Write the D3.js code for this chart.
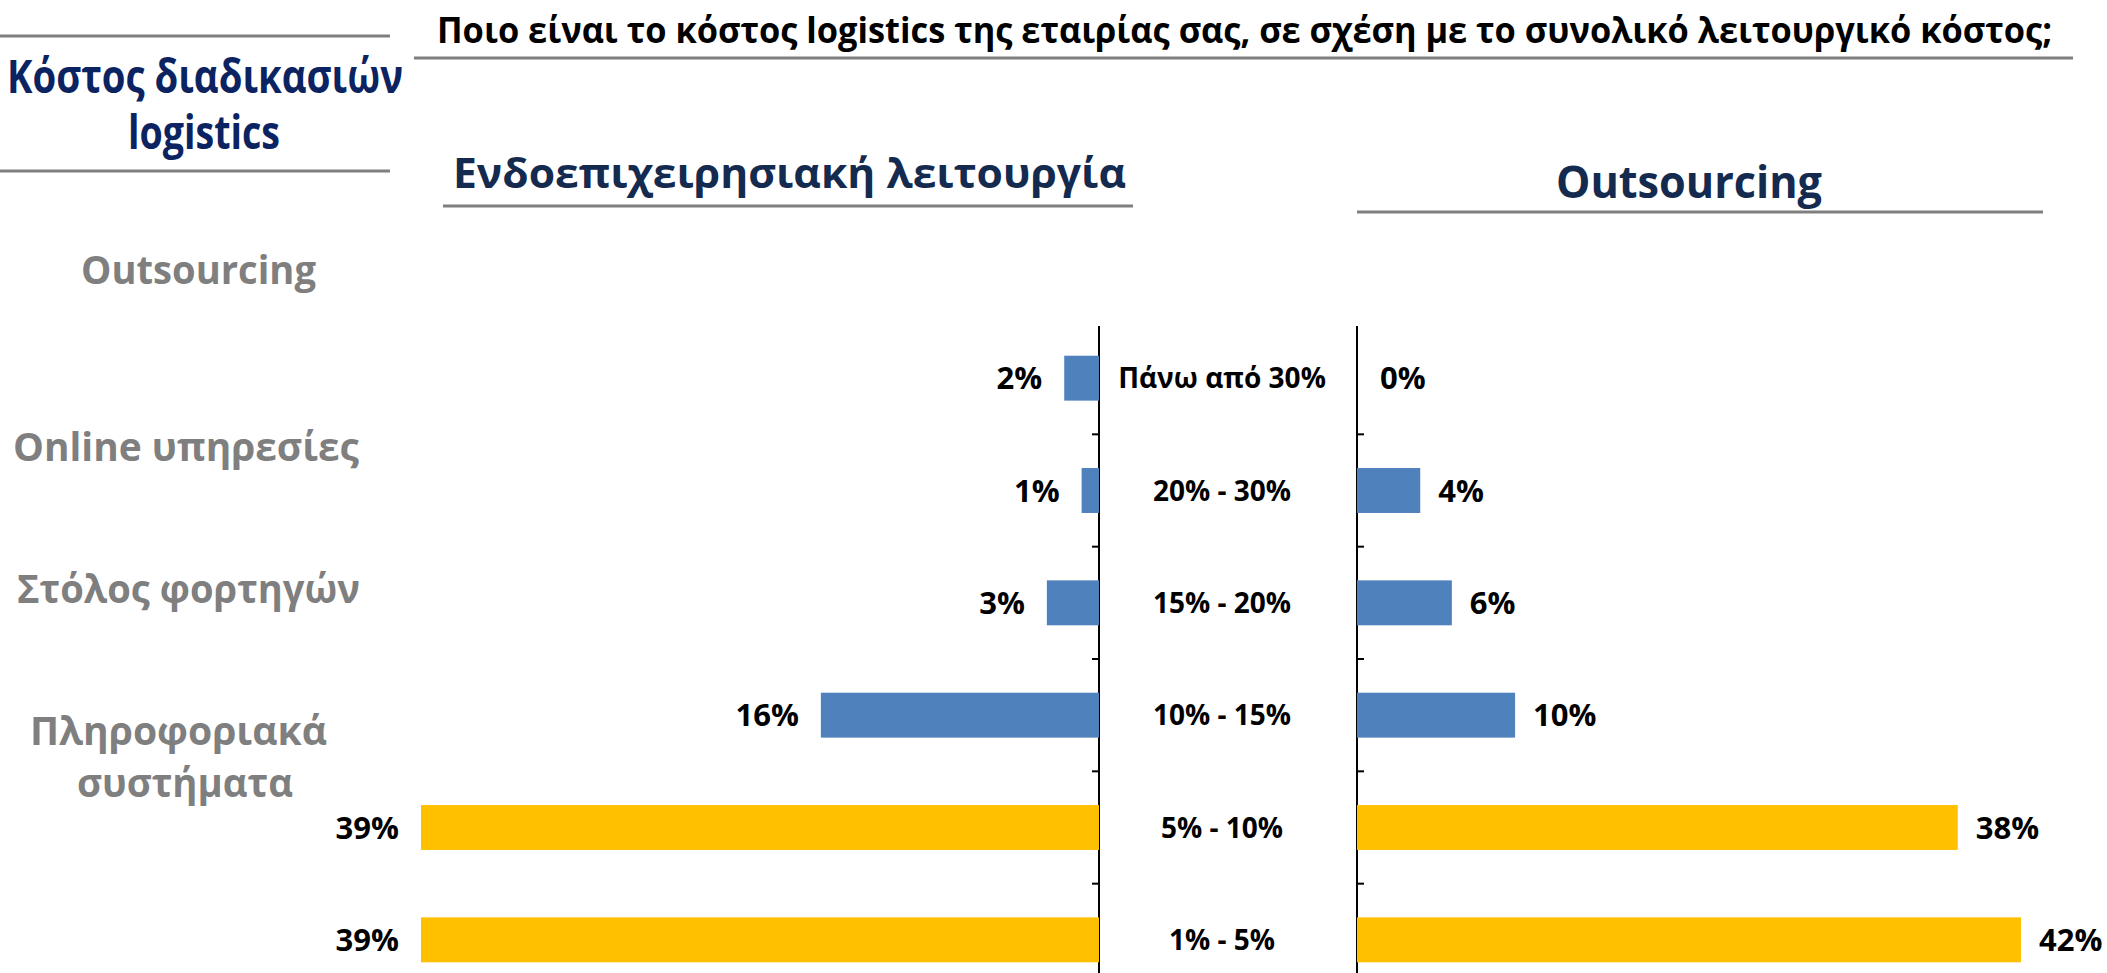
<!DOCTYPE html>
<html>
<head>
<meta charset="utf-8">
<script src="https://cdn.jsdelivr.net/npm/d3@7"></script>
<style>
  html, body { margin: 0; padding: 0; background: #ffffff; }
  svg { display: block; }
  text { font-family: 'Open Sans', 'Noto Sans', 'DejaVu Sans', sans-serif; font-weight: 700; }
</style>
</head>
<body>
<div id="chart"></div>
<script>
// ---------------- data ----------------
const categories = ["Πάνω από 30%", "20% - 30%", "15% - 20%", "10% - 15%", "5% - 10%", "1% - 5%"];
const inhouseValues = [2, 1, 3, 16, 39, 39];        // Ενδοεπιχειρησιακή λειτουργία (%)
const outsourcingValues = [0, 4, 6, 10, 38, 42];    // Outsourcing (%)
const questionTitle = "Ποιο είναι το κόστος logistics της εταιρίας σας, σε σχέση με το συνολικό λειτουργικό κόστος;";
const leftPanelTitle = "Ενδοεπιχειρησιακή λειτουργία";
const rightPanelTitle = "Outsourcing";
const sectionTitleLines = ["Κόστος διαδικασιών", "logistics"];
const sideMenuLines = ["Outsourcing", "Online υπηρεσίες", "Στόλος φορτηγών", "Πληροφοριακά", "συστήματα"];

// ---------------- layout / style ----------------
const W = 2107, H = 973;
const BLUE = "#4f81bd", GOLD = "#ffc000";
const NAVY = "#0b2461", SLATE = "#142b4f", GREY = "#7f7f7f";
const axisLeftX = 1099, axisRightX = 1357;

const svg = d3.select("#chart").append("svg")
  .attr("width", W).attr("height", H)
  .attr("viewBox", `0 0 ${W} ${H}`);

const y = d3.scaleBand().domain(categories).range([322, 996]).paddingInner(0.6).paddingOuter(0.3);
const xL = d3.scaleLinear().domain([0, 39]).range([axisLeftX, 421]);
const xR = d3.scaleLinear().domain([0, 42]).range([axisRightX, 2021]);
const color = d3.scaleOrdinal().domain(categories).range([BLUE, BLUE, BLUE, BLUE, GOLD, GOLD]);

// ---------- decorative rules ----------
const rules = [
  [0, 36, 390, 36], [0, 171, 390, 171],
  [414, 58, 2073, 58],
  [443, 206, 1133, 206],
  [1357, 212, 2043, 212]
];
svg.append("g").selectAll("line").data(rules).join("line")
  .attr("x1", d => d[0]).attr("y1", d => d[1]).attr("x2", d => d[2]).attr("y2", d => d[3])
  .attr("stroke", GREY).attr("stroke-width", 3);

// ---------- titles ----------
function fitText(sel, len) {
  sel.attr("textLength", len).attr("lengthAdjust", "spacingAndGlyphs");
}
svg.append("text").attr("x", 437).attr("y", 43).attr("font-size", 35).attr("fill", "#000")
  .text(questionTitle).call(fitText, 1615);

const secPos = [[7, 93, 396], [128, 149, 152]];
sectionTitleLines.forEach((t, i) => {
  svg.append("text").attr("x", secPos[i][0]).attr("y", secPos[i][1]).attr("font-size", 46)
    .attr("fill", NAVY).text(t).call(fitText, secPos[i][2]);
});

svg.append("text").attr("x", 453).attr("y", 188).attr("font-size", 42).attr("fill", SLATE)
  .text(leftPanelTitle).call(fitText, 673);
svg.append("text").attr("x", 1556).attr("y", 198).attr("font-size", 44).attr("fill", SLATE)
  .text(rightPanelTitle).call(fitText, 266);

// ---------- side menu (grey) ----------
const sidePos = [[81, 284, 235], [13, 461, 346], [17, 603, 343], [30, 745, 297], [77, 797, 216]];
sideMenuLines.forEach((t, i) => {
  svg.append("text").attr("x", sidePos[i][0]).attr("y", sidePos[i][1]).attr("font-size", 40)
    .attr("fill", GREY).text(t).call(fitText, sidePos[i][2]);
});

// ---------- axes ----------
const axisG = svg.append("g");
[axisLeftX, axisRightX].forEach(x => {
  axisG.append("line").attr("x1", x).attr("x2", x).attr("y1", 326).attr("y2", H)
    .attr("stroke", "#000").attr("stroke-width", 2);
});
const boundaries = categories.slice(0, -1).map(c => y(c) + y.bandwidth() / 2 + y.step() / 2);
axisG.selectAll(".tl").data(boundaries).join("line").attr("class", "tl")
  .attr("x1", axisLeftX - 7).attr("x2", axisLeftX).attr("y1", d => d).attr("y2", d => d)
  .attr("stroke", "#000").attr("stroke-width", 2);
axisG.selectAll(".tr").data(boundaries).join("line").attr("class", "tr")
  .attr("x1", axisRightX).attr("x2", axisRightX + 7).attr("y1", d => d).attr("y2", d => d)
  .attr("stroke", "#000").attr("stroke-width", 2);

// ---------- bars ----------
const left = categories.map((c, i) => ({ c, v: inhouseValues[i] }));
const right = categories.map((c, i) => ({ c, v: outsourcingValues[i] }));

svg.append("g").selectAll("rect").data(left).join("rect")
  .attr("x", d => xL(d.v)).attr("width", d => axisLeftX - xL(d.v))
  .attr("y", d => y(d.c)).attr("height", y.bandwidth())
  .attr("fill", d => color(d.c));

svg.append("g").selectAll("rect").data(right).join("rect")
  .attr("x", axisRightX).attr("width", d => xR(d.v) - axisRightX)
  .attr("y", d => y(d.c)).attr("height", y.bandwidth())
  .attr("fill", d => color(d.c));

// ---------- labels ----------
const cy = d => y(d.c) + y.bandwidth() / 2;
svg.append("g").selectAll("text").data(left).join("text")
  .attr("x", d => xL(d.v) - 22).attr("y", cy).attr("dy", "0.36em")
  .attr("text-anchor", "end").attr("font-size", 31).attr("fill", "#000")
  .text(d => d.v + "%");

svg.append("g").selectAll("text").data(right).join("text")
  .attr("x", d => xR(d.v) + (d.v === 0 ? 23 : 18)).attr("y", cy).attr("dy", "0.36em")
  .attr("text-anchor", "start").attr("font-size", 31).attr("fill", "#000")
  .text(d => d.v + "%");

svg.append("g").selectAll("text").data(categories).join("text")
  .attr("x", 1222).attr("y", c => y(c) + y.bandwidth() / 2).attr("dy", "0.36em")
  .attr("text-anchor", "middle").attr("font-size", 28).attr("fill", "#000")
  .text(c => c);
</script>
</body>
</html>
